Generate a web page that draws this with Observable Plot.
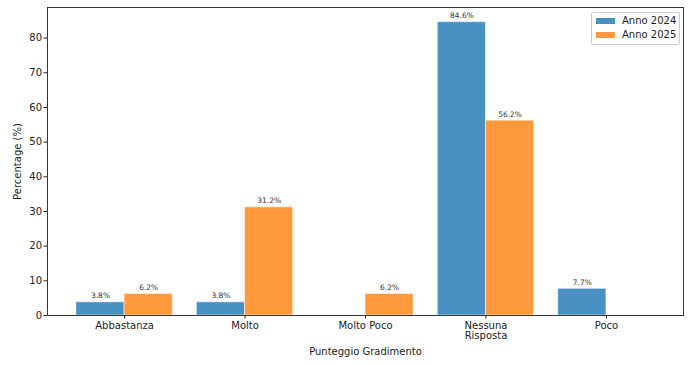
<!DOCTYPE html>
<html>
<head>
<meta charset="utf-8">
<script src="https://cdn.jsdelivr.net/npm/d3@7"></script>
<script src="https://cdn.jsdelivr.net/npm/@observablehq/plot@0.6"></script>
<style>
  body { margin: 0; background: #fff; }
  #wrap { position: relative; width: 692px; height: 365px; font-family: "DejaVu Sans", sans-serif; }
  #legend { position: absolute; left: 591px; top: 12px; width: 87px; height: 31px; border: 1px solid #ccc; border-radius: 2px; background: rgba(255,255,255,0.8); font-size: 10px; color: #222; }
  .item { position: absolute; left: 4px; display: flex; align-items: center; white-space: nowrap; line-height: 12px; }
  .sw { width: 19px; height: 6px; margin-right: 7px; flex: none; }
</style>
</head>
<body>
<div id="wrap"></div>
<script>
const categories = ["Abbastanza", "Molto", "Molto Poco", "Nessuna\nRisposta", "Poco"];
const series = ["Anno 2024", "Anno 2025"];
const values2024 = [3.8, 3.8, 0, 84.6, 7.7];
const values2025 = [6.2, 31.2, 6.2, 56.2, 0];
const colors = ["#4a91c3", "#fe9a3d"];
const yTicks = [0, 10, 20, 30, 40, 50, 60, 70, 80];

const rows = [];
categories.forEach((c, i) => {
  rows.push({i, s: 0, v: values2024[i]});
  rows.push({i, s: 1, v: values2025[i]});
});
const bw = 0.4;
const bars = rows.map(d => ({...d, x1: d.i - bw + d.s * bw, x2: d.i + d.s * bw, xc: d.i - bw / 2 + d.s * bw}));
const labeled = bars.filter(d => d.v > 0);

const chart = Plot.plot({
  width: 692,
  height: 365,
  marginLeft: 47,
  marginRight: 9,
  marginTop: 7,
  marginBottom: 50,
  style: {fontFamily: "DejaVu Sans, sans-serif", fontSize: "10px", color: "#222", background: "#fff"},
  x: {type: "linear", domain: [-0.64, 4.64]},
  y: {domain: [0, 84.6 * 1.05]},
  marks: [
    Plot.rectY(bars.filter(d => d.v > 0), {x1: "x1", x2: "x2", y1: 0, y2: "v", fill: d => colors[d.s], stroke: "#ffffff", strokeOpacity: 0.5, strokeWidth: 1}),
    Plot.text(labeled, {x: "xc", y: "v", text: d => d.v.toFixed(1) + "%", dy: -4, fontSize: 7.5, fill: "#333", lineAnchor: "bottom"}),
    Plot.frame({stroke: "#222", strokeWidth: 0.9}),
    Plot.axisY({ticks: yTicks, tickSize: 3.5, tickPadding: 2, tickFormat: d => String(d), label: "Percentage (%)", labelAnchor: "center", labelOffset: 34, labelArrow: "none", fontSize: 10}),
    Plot.axisX({ticks: [0, 1, 2, 3, 4], tickSize: 3.5, tickPadding: 3, tickFormat: i => categories[i], label: "Punteggio Gradimento", labelAnchor: "center", labelOffset: 39, labelArrow: "none", fontSize: 10})
  ]
});
document.getElementById("wrap").appendChild(chart);

const legend = document.createElement("div");
legend.id = "legend";
series.forEach((s, k) => {
  const it = document.createElement("div");
  it.className = "item";
  it.style.top = (2 + k * 14) + "px";
  it.innerHTML = `<span class="sw" style="background:${colors[k]}"></span><span>${s}</span>`;
  legend.appendChild(it);
});
document.getElementById("wrap").appendChild(legend);
</script>
</body>
</html>
